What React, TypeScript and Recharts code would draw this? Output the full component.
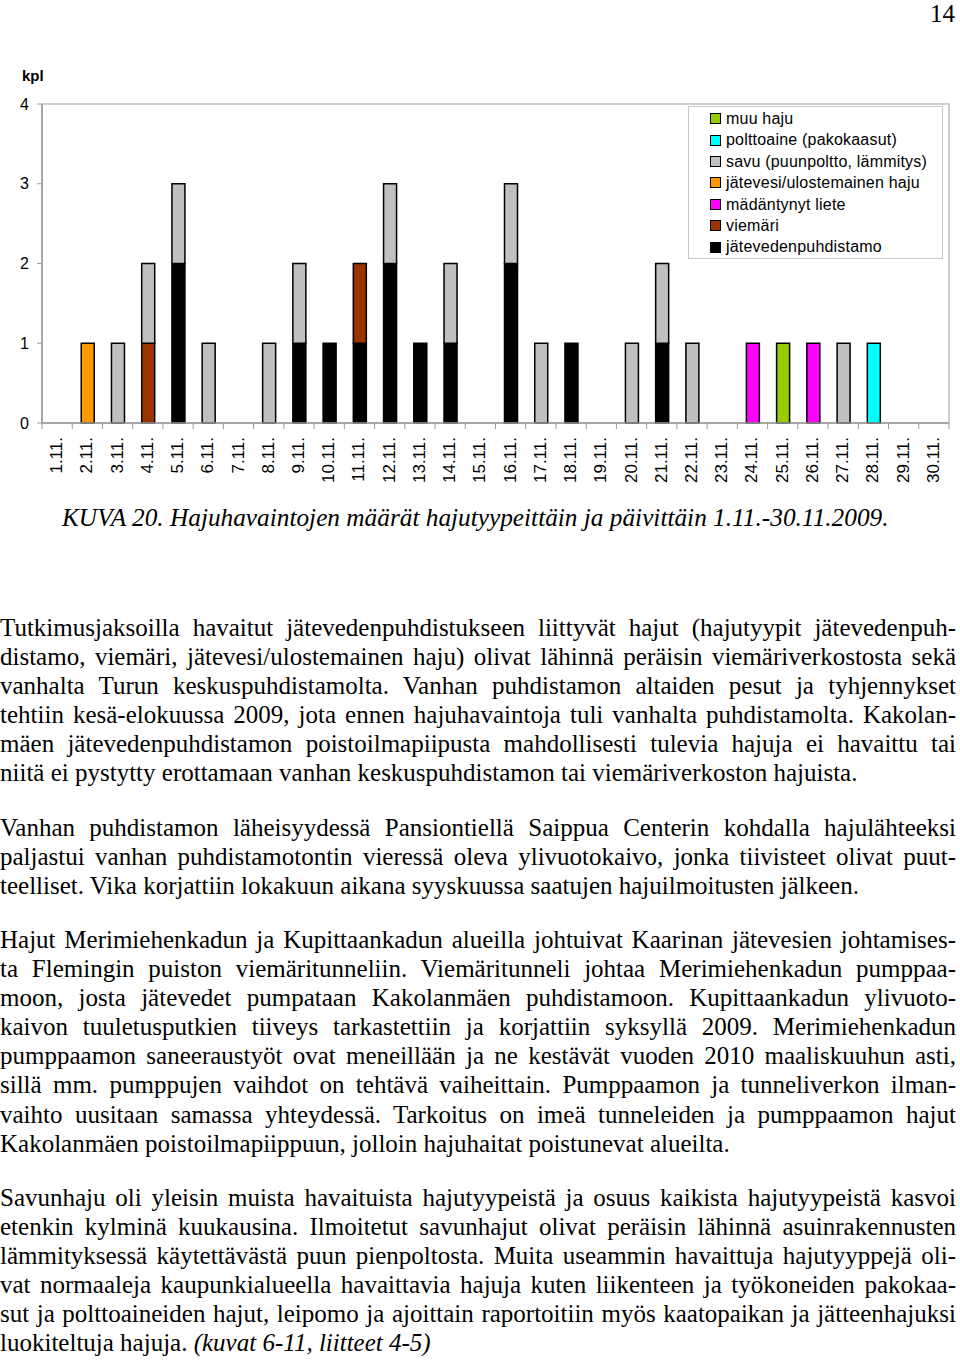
import React from "react";
import {
  BarChart,
  Bar,
  XAxis,
  YAxis,
  ReferenceArea,
} from "recharts";

// päivät 1.11.–30.11.
const days = [
  "1.11.", "2.11.", "3.11.", "4.11.", "5.11.", "6.11.", "7.11.", "8.11.", "9.11.", "10.11.",
  "11.11.", "12.11.", "13.11.", "14.11.", "15.11.", "16.11.", "17.11.", "18.11.", "19.11.", "20.11.",
  "21.11.", "22.11.", "23.11.", "24.11.", "25.11.", "26.11.", "27.11.", "28.11.", "29.11.", "30.11.",
];

const jatevedenpuhdistamo = [0, 0, 0, 0, 2, 0, 0, 0, 1, 1, 1, 2, 1, 1, 0, 2, 0, 1, 0, 0, 1, 0, 0, 0, 0, 0, 0, 0, 0, 0];
const viemari = [0, 0, 0, 1, 0, 0, 0, 0, 0, 0, 1, 0, 0, 0, 0, 0, 0, 0, 0, 0, 0, 0, 0, 0, 0, 0, 0, 0, 0, 0];
const madantynytLiete = [0, 0, 0, 0, 0, 0, 0, 0, 0, 0, 0, 0, 0, 0, 0, 0, 0, 0, 0, 0, 0, 0, 0, 1, 0, 1, 0, 0, 0, 0];
const jatevesi = [0, 1, 0, 0, 0, 0, 0, 0, 0, 0, 0, 0, 0, 0, 0, 0, 0, 0, 0, 0, 0, 0, 0, 0, 0, 0, 0, 0, 0, 0];
const savu = [0, 0, 1, 1, 1, 1, 0, 1, 1, 0, 0, 1, 0, 1, 0, 1, 1, 0, 0, 1, 1, 1, 0, 0, 0, 0, 1, 0, 0, 0];
const polttoaine = [0, 0, 0, 0, 0, 0, 0, 0, 0, 0, 0, 0, 0, 0, 0, 0, 0, 0, 0, 0, 0, 0, 0, 0, 0, 0, 0, 1, 0, 0];
const muuHaju = [0, 0, 0, 0, 0, 0, 0, 0, 0, 0, 0, 0, 0, 0, 0, 0, 0, 0, 0, 0, 0, 0, 0, 0, 1, 0, 0, 0, 0, 0];

const yTicks = [0, 1, 2, 3, 4];

// pinoamisjärjestys alhaalta ylös
const series = [
  { key: "jatevedenpuhdistamo", name: "jätevedenpuhdistamo", color: "#000000", values: jatevedenpuhdistamo },
  { key: "viemari", name: "viemäri", color: "#993300", values: viemari },
  { key: "madantynyt", name: "mädäntynyt liete", color: "#FF00FF", values: madantynytLiete },
  { key: "jatevesi", name: "jätevesi/ulostemainen haju", color: "#FF9900", values: jatevesi },
  { key: "savu", name: "savu (puunpoltto, lämmitys)", color: "#C0C0C0", values: savu },
  { key: "polttoaine", name: "polttoaine (pakokaasut)", color: "#00FFFF", values: polttoaine },
  { key: "muu", name: "muu haju", color: "#99CC00", values: muuHaju },
];

const chartData = days.map((day, i) => {
  const row: any = { day };
  series.forEach((s) => {
    row[s.key] = s.values[i];
  });
  return row;
});

const CHART_W = 960;
const CHART_H = 500;
const MARGIN = { top: 104, right: 11, left: 12, bottom: 7 };
const Y_W = 30;
const BAND = (CHART_W - MARGIN.left - MARGIN.right - Y_W) / days.length;
const AXIS_GREY = "#9a9a9a";
const SANS = "'Liberation Sans', Arial, sans-serif";
const SERIF = "'Liberation Serif', 'Times New Roman', serif";

const DayTick = (props: any) => {
  const { x, y, payload, index } = props;
  const axisY = y - 6;
  return (
    <g>
      <line x1={x - BAND / 2} y1={axisY} x2={x - BAND / 2} y2={axisY + 6} stroke={AXIS_GREY} />
      {index === days.length - 1 && (
        <line x1={x + BAND / 2} y1={axisY} x2={x + BAND / 2} y2={axisY + 6} stroke={AXIS_GREY} />
      )}
      <text
        x={x + 5}
        y={y + 8}
        transform={`rotate(-90, ${x + 5}, ${y + 8})`}
        textAnchor="end"
        fontSize={17}
        fontFamily={SANS}
        fill="#000"
      >
        {payload.value}
      </text>
    </g>
  );
};

const LegendBox = () => (
  <div
    style={{
      position: "absolute",
      left: 688,
      top: 106,
      width: 255,
      height: 153,
      boxSizing: "border-box",
      border: "1px solid #c8c8c8",
      paddingTop: 1,
      fontFamily: SANS,
      fontSize: 16,
      letterSpacing: 0.2,
      color: "#000",
      background: "#fff",
    }}
  >
    {[...series].reverse().map((s) => (
      <div key={s.key} style={{ height: 21.4, lineHeight: "21.4px", display: "flex", alignItems: "center" }}>
        <span
          style={{
            display: "inline-block",
            width: 9,
            height: 9,
            marginLeft: 21,
            marginRight: 5,
            background: s.color,
            border: "1px solid #000",
          }}
        />
        <span>{s.name}</span>
      </div>
    ))}
  </div>
);

const paragraphs: { top: number; lines: string[]; tail?: string }[] = [
  {
    top: 613,
    lines: [
      "Tutkimusjaksoilla havaitut jätevedenpuhdistukseen liittyvät hajut (hajutyypit jätevedenpuh-",
      "distamo, viemäri, jätevesi/ulostemainen haju) olivat lähinnä peräisin viemäriverkostosta sekä",
      "vanhalta Turun keskuspuhdistamolta. Vanhan puhdistamon altaiden pesut ja tyhjennykset",
      "tehtiin kesä-elokuussa 2009, jota ennen hajuhavaintoja tuli vanhalta puhdistamolta. Kakolan-",
      "mäen jätevedenpuhdistamon poistoilmapiipusta mahdollisesti tulevia hajuja ei havaittu tai",
      "niitä ei pystytty erottamaan vanhan keskuspuhdistamon tai viemäriverkoston hajuista.",
    ],
  },
  {
    top: 813,
    lines: [
      "Vanhan puhdistamon läheisyydessä Pansiontiellä Saippua Centerin kohdalla hajulähteeksi",
      "paljastui vanhan puhdistamotontin vieressä oleva ylivuotokaivo, jonka tiivisteet olivat puut-",
      "teelliset. Vika korjattiin lokakuun aikana syyskuussa saatujen hajuilmoitusten jälkeen.",
    ],
  },
  {
    top: 925,
    lines: [
      "Hajut Merimiehenkadun ja Kupittaankadun alueilla johtuivat Kaarinan jätevesien johtamises-",
      "ta Flemingin puiston viemäritunneliin. Viemäritunneli johtaa Merimiehenkadun pumppaa-",
      "moon, josta jätevedet pumpataan Kakolanmäen puhdistamoon. Kupittaankadun ylivuoto-",
      "kaivon tuuletusputkien tiiveys tarkastettiin ja korjattiin syksyllä 2009. Merimiehenkadun",
      "pumppaamon saneeraustyöt ovat meneillään ja ne kestävät vuoden 2010 maaliskuuhun asti,",
      "sillä mm. pumppujen vaihdot on tehtävä vaiheittain. Pumppaamon ja tunneliverkon ilman-",
      "vaihto uusitaan samassa yhteydessä. Tarkoitus on imeä tunneleiden ja pumppaamon hajut",
      "Kakolanmäen poistoilmapiippuun, jolloin hajuhaitat poistunevat alueilta.",
    ],
  },
  {
    top: 1183,
    lines: [
      "Savunhaju oli yleisin muista havaituista hajutyypeistä ja osuus kaikista hajutyypeistä kasvoi",
      "etenkin kylminä kuukausina. Ilmoitetut savunhajut olivat peräisin lähinnä asuinrakennusten",
      "lämmityksessä käytettävästä puun pienpoltosta. Muita useammin havaittuja hajutyyppejä oli-",
      "vat normaaleja kaupunkialueella havaittavia hajuja kuten liikenteen ja työkoneiden pakokaa-",
      "sut ja polttoaineiden hajut, leipomo ja ajoittain raportoitiin myös kaatopaikan ja jätteenhajuksi",
      "luokiteltuja hajuja. ",
    ],
    tail: "(kuvat 6-11, liitteet 4-5)",
  },
];

export default function App() {
  return (
    <div
      style={{
        position: "absolute",
        left: 0,
        top: 0,
        width: 960,
        height: 1361,
        background: "#fff",
        overflow: "hidden",
        fontFamily: SERIF,
      }}
    >
      <div style={{ position: "absolute", right: 5, top: 1, fontSize: 25, lineHeight: "26px", fontFamily: SERIF }}>
        14
      </div>

      <div
        style={{
          position: "absolute",
          left: 22,
          top: 67,
          fontFamily: SANS,
          fontWeight: "bold",
          fontSize: 15,
        }}
      >
        kpl
      </div>

      <div style={{ position: "absolute", left: 0, top: 0 }}>
        <BarChart width={CHART_W} height={CHART_H} data={chartData} margin={MARGIN} barSize={13}>
          <ReferenceArea y1={0} y2={4} fill="none" stroke="#c0c0c0" strokeWidth={1.5} ifOverflow="visible" />
          <XAxis
            dataKey="day"
            height={70}
            interval={0}
            axisLine={{ stroke: AXIS_GREY, strokeWidth: 1.5 }}
            tickLine={false}
            tickSize={6}
            tickMargin={0}
            tick={<DayTick />}
          />
          <YAxis
            width={Y_W}
            domain={[0, 4]}
            ticks={yTicks}
            interval={0}
            axisLine={{ stroke: AXIS_GREY, strokeWidth: 1.5 }}
            tickLine={{ stroke: AXIS_GREY }}
            tickSize={5}
            tickMargin={8}
            tick={{ fontSize: 16, fontFamily: SANS, fill: "#000" }}
          />
          {series.map((s) => (
            <Bar
              key={s.key}
              dataKey={s.key}
              name={s.name}
              stackId="a"
              fill={s.color}
              stroke="#000"
              strokeWidth={1.5}
              isAnimationActive={false}
            />
          ))}
        </BarChart>
      </div>

      <LegendBox />

      <div
        style={{
          position: "absolute",
          left: 62,
          top: 503,
          fontSize: 25.3,
          fontStyle: "italic",
          fontFamily: SERIF,
          whiteSpace: "nowrap",
        }}
      >
        KUVA 20. Hajuhavaintojen määrät hajutyypeittäin ja päivittäin 1.11.-30.11.2009.
      </div>

      {paragraphs.map((p, pi) => (
        <div
          key={pi}
          style={{
            position: "absolute",
            left: 0,
            top: p.top,
            width: 956,
            fontSize: 25,
            lineHeight: "29.1px",
            fontFamily: SERIF,
            color: "#000",
          }}
        >
          {p.lines.map((line, li) => {
            const last = li === p.lines.length - 1;
            return (
              <div
                key={li}
                style={{
                  whiteSpace: "nowrap",
                  textAlign: last ? "left" : "justify",
                  textAlignLast: last ? "left" : "justify",
                }}
              >
                {line}
                {last && p.tail && <i>{p.tail}</i>}
              </div>
            );
          })}
        </div>
      ))}
    </div>
  );
}
